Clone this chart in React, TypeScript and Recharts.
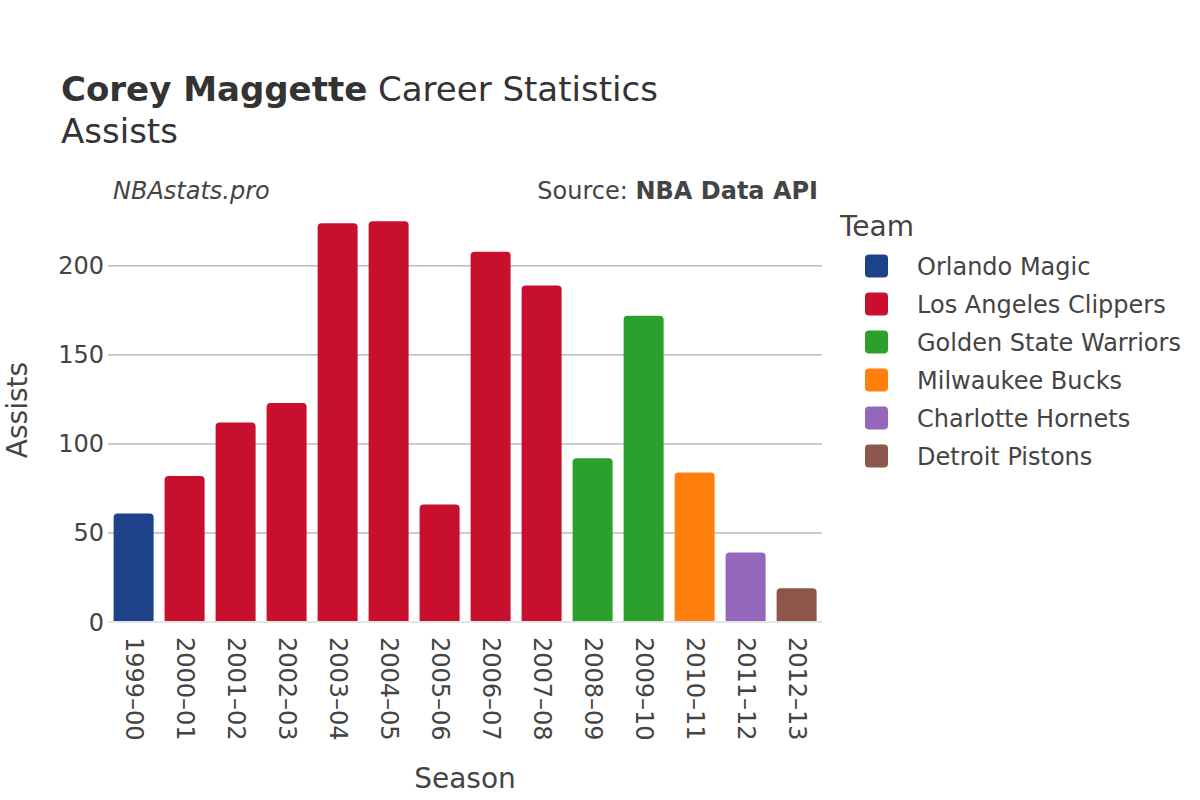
import React from "react";
import { BarChart, Bar, XAxis, YAxis, CartesianGrid, Cell, ReferenceLine } from "recharts";

const seasons = ["1999–00", "2000–01", "2001–02", "2002–03", "2003–04", "2004–05", "2005–06", "2006–07", "2007–08", "2008–09", "2009–10", "2010–11", "2011–12", "2012–13"];
const assists = [61, 82, 112, 123, 224, 225, 66, 208, 189, 92, 172, 84, 39, 19];
const seasonTeams = ["Orlando Magic", "Los Angeles Clippers", "Los Angeles Clippers", "Los Angeles Clippers", "Los Angeles Clippers", "Los Angeles Clippers", "Los Angeles Clippers", "Los Angeles Clippers", "Los Angeles Clippers", "Golden State Warriors", "Golden State Warriors", "Milwaukee Bucks", "Charlotte Hornets", "Detroit Pistons"];
const teams = ["Orlando Magic", "Los Angeles Clippers", "Golden State Warriors", "Milwaukee Bucks", "Charlotte Hornets", "Detroit Pistons"];
const teamColors = ["#1d428a", "#c8102e", "#2ca02c", "#ff7f0e", "#9467bd", "#8c564b"];
const yTicks = [0, 50, 100, 150, 200];
const gridValues = [50, 100, 150, 200];

const data = seasons.map((s, i) => ({ season: s, assists: assists[i], team: seasonTeams[i] }));
const colorOf = (t: string) => teamColors[teams.indexOf(t)];

const FONT = "'DejaVu Sans', sans-serif";
const TEXT = "#444";

const XTick = (props: any) => {
  const { x, y, payload } = props;
  return (
    <text
      transform={`translate(${x},${y + 15}) rotate(90)`}
      textAnchor="start"
      dominantBaseline="central"
      fontSize={24}
      fill={TEXT}
      fontFamily={FONT}
    >
      {payload.value}
    </text>
  );
};

export default function App() {
  return (
    <div style={{ position: "fixed", left: 0, top: 0, width: 1200, height: 800, background: "#fff", fontFamily: FONT }}>
      <BarChart
        width={1200}
        height={800}
        data={data}
        margin={{ top: 200, right: 378, bottom: 68, left: 48 }}
        barCategoryGap="11%"
      >
        <CartesianGrid vertical={false} stroke="#999" strokeWidth={1} horizontalValues={gridValues} />
        <XAxis
          dataKey="season"
          height={110}
          tickLine={false}
          axisLine={false}
          tickSize={0}
          tickMargin={0}
          interval={0}
          tick={<XTick />}
        />
        <YAxis
          width={60}
          domain={[0, 237]}
          ticks={yTicks}
          tickLine={false}
          axisLine={false}
          tickSize={0}
          tickMargin={4}
          tick={{ fontSize: 24, fill: TEXT, fontFamily: FONT }}
        />
        <ReferenceLine y={0} stroke="#e5e5e5" strokeWidth={2} />
        <Bar dataKey="assists" isAnimationActive={false} radius={[4, 4, 0, 0]}>
          {data.map((d, i) => (
            <Cell key={i} fill={colorOf(d.team)} />
          ))}
        </Bar>
      </BarChart>
      <svg width={1200} height={800} style={{ position: "absolute", left: 0, top: 0, pointerEvents: "none" }}>
        <text x={61} y={101} fontSize={34} fill="#333" fontFamily={FONT}>
          <tspan fontWeight="bold">Corey Maggette</tspan>
          <tspan> Career Statistics</tspan>
        </text>
        <text x={61} y={143} fontSize={34} fill="#333" fontFamily={FONT}>Assists</text>
        <text x={113} y={199} fontSize={24} fontStyle="italic" fill={TEXT} fontFamily={FONT}>NBAstats.pro</text>
        <text x={818} y={199} fontSize={24} textAnchor="end" fill={TEXT} fontFamily={FONT}>
          <tspan>Source: </tspan>
          <tspan fontWeight="bold">NBA Data API</tspan>
        </text>
        <text transform="translate(27,410) rotate(-90)" textAnchor="middle" fontSize={28} fill={TEXT} fontFamily={FONT}>Assists</text>
        <text x={465} y={788} textAnchor="middle" fontSize={28} fill={TEXT} fontFamily={FONT}>Season</text>
        <text x={840} y={236} fontSize={28} fill={TEXT} fontFamily={FONT}>Team</text>
        {teams.map((t, i) => (
          <g key={t}>
            <rect x={865} y={266 + i * 38 - 11.5} width={23} height={23} rx={4} ry={4} fill={teamColors[i]} />
            <text x={917} y={266 + i * 38 + 8.5} fontSize={24} fill={TEXT} fontFamily={FONT}>{t}</text>
          </g>
        ))}
      </svg>
    </div>
  );
}
